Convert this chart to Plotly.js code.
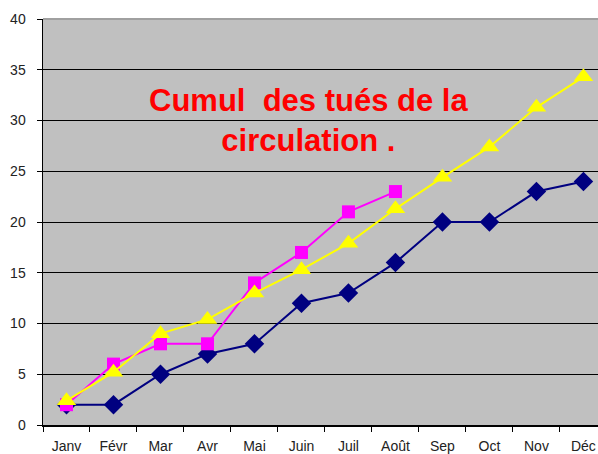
<!DOCTYPE html>
<html>
<head>
<meta charset="utf-8">
<script src="https://cdn.plot.ly/plotly-3.0.1.min.js"></script>
<style>html,body{margin:0;padding:0;background:#fff;}#chart{width:598px;height:454px;}</style>
</head>
<body>
<div id="chart"></div>
<script>
const months = ["Janv","Févr","Mar","Avr","Mai","Juin","Juil","Août","Sep","Oct","Nov","Déc"];
const seriesNavy = [2, 2, 5, 7, 8, 12, 13, 16, 20, 20, 23, 24];
const seriesMagenta = [2, 6, 8, 8, 14, 17, 21, 23];
const seriesYellow = [2.4, 5.2, 9, 10.4, 13, 15.3, 17.9, 21.3, 24.4, 27.4, 31.3, 34.3];
const yTicks = [0, 5, 10, 15, 20, 25, 30, 35, 40];
const titleText = "Cumul  des tués de la<br>circulation .";

const traces = [
  {x: months, y: seriesNavy, type: "scatter", mode: "lines+markers",
   line: {color: "#000080", width: 2}, marker: {symbol: "diamond", size: 15, color: "#000080"}},
  {x: months.slice(0, seriesMagenta.length), y: seriesMagenta, type: "scatter", mode: "lines+markers",
   line: {color: "#FF00FF", width: 2}, marker: {symbol: "square", size: 13, color: "#FF00FF"}},
  {x: months, y: seriesYellow, type: "scatter", mode: "lines+markers",
   line: {color: "#FFFF00", width: 2}, marker: {symbol: "triangle-up", size: 17, color: "#FFFF00"}}
];

const layout = {
  width: 598, height: 454,
  margin: {l: 43, r: 0, t: 19, b: 29, pad: 0},
  paper_bgcolor: "#ffffff",
  plot_bgcolor: "#C0C0C0",
  showlegend: false,
  font: {family: "Liberation Sans, Arial, sans-serif", size: 14, color: "#222"},
  xaxis: {
    type: "category", categoryarray: months,
    range: [-0.5, 11.31],
    showgrid: false, zeroline: false,
    showline: true, linecolor: "#000", linewidth: 1.5,
    ticks: "outside", ticklen: 5, tickcolor: "#000", tickson: "boundaries",
    ticklabelstandoff: 8,
    tickfont: {size: 14, color: "#222"}
  },
  yaxis: {
    range: [0, 40], tickvals: yTicks, ticktext: yTicks.map(String),
    showgrid: true, gridcolor: "#000", gridwidth: 1,
    zeroline: false,
    showline: true, linecolor: "#000", linewidth: 1.5,
    ticks: "outside", ticklen: 5, tickcolor: "#000",
    ticklabelstandoff: 8,
    tickfont: {size: 14, color: "#222"}
  },
  shapes: [
    {type: "line", xref: "paper", yref: "paper", x0: 0, x1: 1, y0: 1, y1: 1,
     line: {color: "#A0A0A0", width: 2}, layer: "above"}
  ],
  annotations: [
    {text: "<b>" + titleText + "</b>", xref: "paper", yref: "paper",
     x: 0.478, y: 0.75, xanchor: "center", yanchor: "middle", showarrow: false,
     align: "center",
     font: {family: "Liberation Sans, Arial, sans-serif", size: 31, color: "#FF0000"}}
  ]
};

Plotly.newPlot("chart", traces, layout, {displayModeBar: false, staticPlot: true});
</script>
</body>
</html>
